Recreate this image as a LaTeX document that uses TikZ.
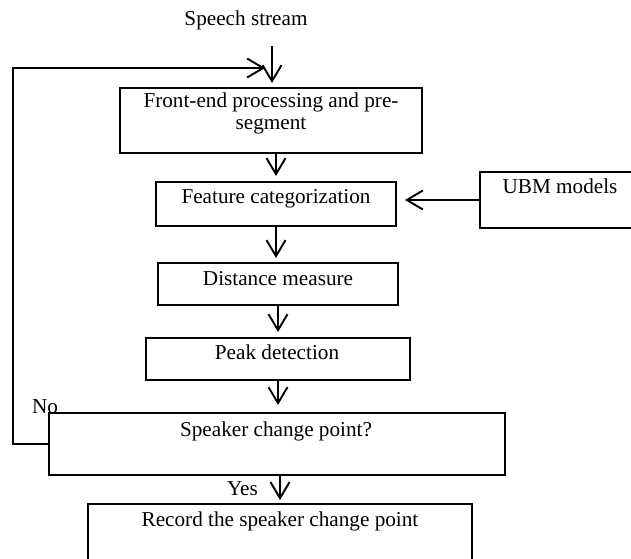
\documentclass[tikz,border=0pt]{standalone}
\usepackage{fontspec}
\setmainfont{Liberation Serif}
\usetikzlibrary{arrows.meta,calc}
\begin{document}
\begin{tikzpicture}[x=1pt,y=-1pt,
  box/.style={draw, line width=1.9pt, inner sep=0pt, outer sep=0pt, anchor=north west},
  txt/.style={inner sep=0pt, outer sep=0pt, font=\fontsize{21.2}{22}\selectfont},
  arr/.style={line width=1.9pt, -{Straight Barb[length=16pt,width=19pt,line width=1.9pt]}},
  ln/.style={line width=1.9pt}]
\useasboundingbox (0,0) rectangle (631,558);

% boxes
\node[box, minimum width=302pt, minimum height=65pt] (fe) at (120,88) {};
\node[box, minimum width=240pt, minimum height=44pt] (fc) at (156,182) {};
\node[box, minimum width=240pt, minimum height=42pt] (dm) at (158,263) {};
\node[box, minimum width=264pt, minimum height=42pt] (pd) at (146,338) {};
\node[box, minimum width=456pt, minimum height=62pt] (sc) at (49,413) {};
\node[box, minimum width=384pt, minimum height=70pt] (rc) at (88,504) {};
\node[box, minimum width=160pt, minimum height=56pt] (ubm) at (480,172) {};

% texts
\node[txt, anchor=base] (ss) at (246,25) {Speech stream};
\node[txt, anchor=north, align=center] (tfe) at (271,92.5) {Front-end processing and pre-\\segment};
\node[txt, anchor=base] (tfc) at (276,203) {Feature categorization};
\node[txt, anchor=base] (tdm) at (278,285) {Distance measure};
\node[txt, anchor=base] (tpd) at (277,359) {Peak detection};
\node[txt, anchor=base] (tsc) at (276,436) {Speaker change point?};
\node[txt, anchor=base] (trc) at (280,526) {Record the speaker change point};
\node[txt, anchor=base] (tubm) at (560,193) {UBM models};
\node[txt, anchor=base west] (no) at (32,413) {No};
\node[txt, anchor=base west] (yes) at (227,495) {Yes};

% connectors
\coordinate (in) at (272,46);
\coordinate (loopx) at (13,68);
\draw[arr, shorten >=5pt] (in) -- (in |- fe.north);
\draw[arr, shorten >=6pt] (fe.south -| fc.north) -- (fc.north);
\draw[arr, shorten >=5pt] (fc.south) -- (fc.south |- dm.north);
\draw[arr, shorten >=6pt] (dm.south) -- (dm.south |- pd.north);
\draw[arr, shorten >=8pt] (pd.south) -- (pd.south |- sc.north);
\draw[arr, shorten >=4pt] (sc.south -| rc.north) -- (rc.north);
\draw[arr, shorten >=9pt] (ubm.west) -- (ubm.west -| fc.east);
\draw[arr, shorten >=7pt] (sc.west) -| (loopx) -- (loopx -| in);
\end{tikzpicture}
\end{document}
